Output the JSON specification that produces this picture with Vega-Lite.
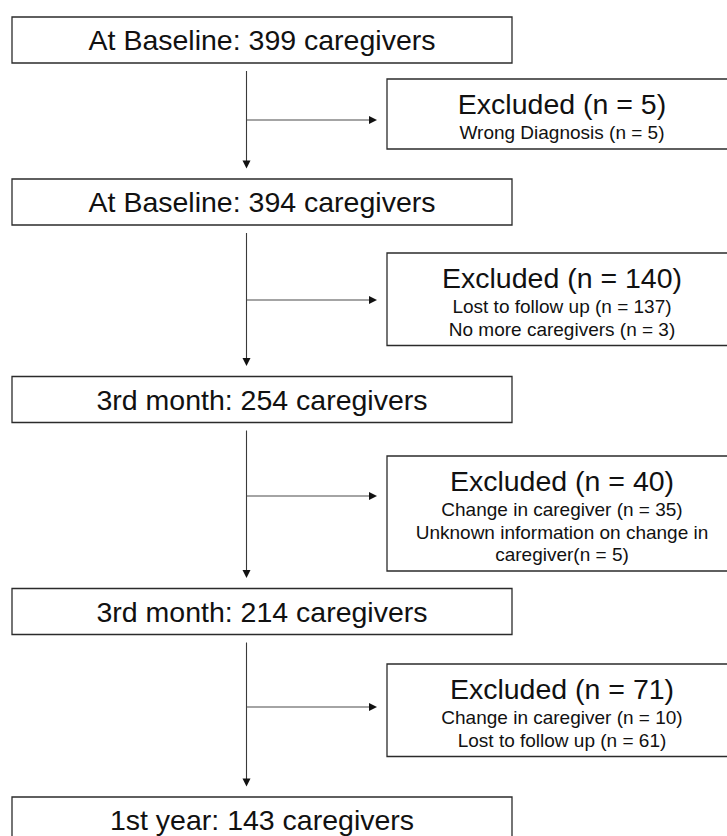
{
  "$schema": "https://vega.github.io/schema/vega-lite/v6.json",
  "width": 727,
  "height": 836,
  "autosize": "none",
  "padding": 0,
  "background": "white",
  "config": {"view": {"stroke": null}, "text": {"font": "Liberation Sans", "color": "#111111"}},
  "datasets": {
    "retained": [
      {"order": 1, "col": 1, "label": "At Baseline: 399 caregivers", "n": 399},
      {"order": 4, "col": 1, "label": "At Baseline: 394 caregivers", "n": 394},
      {"order": 7, "col": 1, "label": "3rd month: 254 caregivers", "n": 254},
      {"order": 10, "col": 1, "label": "3rd month: 214 caregivers", "n": 214},
      {"order": 13, "col": 1, "label": "1st year: 143 caregivers", "n": 143}
    ],
    "excluded": [
      {"order": 2, "arrow": 3, "src": 1, "col": 2, "lines": 1, "n": 5, "title": "Excluded (n = 5)", "details": "Wrong Diagnosis (n = 5)"},
      {"order": 5, "arrow": 6, "src": 1, "col": 2, "lines": 2, "n": 140, "title": "Excluded (n = 140)", "details": "Lost to follow up (n = 137)\nNo more caregivers (n = 3)"},
      {"order": 8, "arrow": 9, "src": 1, "col": 2, "lines": 3, "n": 40, "title": "Excluded (n = 40)", "details": "Change in caregiver (n = 35)\nUnknown information on change in\ncaregiver(n = 5)"},
      {"order": 11, "arrow": 12, "src": 1, "col": 2, "lines": 2, "n": 71, "title": "Excluded (n = 71)", "details": "Change in caregiver (n = 10)\nLost to follow up (n = 61)"}
    ],
    "links": [
      {"col": 1, "from": 1, "to": 4},
      {"col": 1, "from": 4, "to": 7},
      {"col": 1, "from": 7, "to": 10},
      {"col": 1, "from": 10, "to": 13}
    ]
  },
  "layer": [
    {
      "data": {"name": "links"},
      "mark": {"type": "rule", "stroke": "#3a3a3a", "strokeWidth": 1.1, "xOffset": -15.5, "yOffset": 31, "y2Offset": -40},
      "encoding": {
        "x": {"field": "col", "type": "quantitative", "scale": {"domain": [1, 2], "range": [262, 562], "zero": false, "nice": false}, "axis": null},
        "y": {"field": "from", "type": "quantitative", "scale": {"domain": [1,2,3,4,5,6,7,8,9,10,11,12,13], "range": [40,79,120,202,253,300,399.5,456,496,611.5,664,707,820], "zero": false, "nice": false}, "axis": null},
        "y2": {"field": "to"}
      }
    },
    {
      "data": {"name": "links"},
      "mark": {"type": "point", "shape": "M-1,-1L1,-1L0,1Z", "filled": true, "fill": "#111111", "strokeWidth": 0, "opacity": 1, "size": 64, "xOffset": -15.5, "yOffset": -37.5},
      "encoding": {
        "x": {"field": "col", "type": "quantitative"},
        "y": {"field": "to", "type": "quantitative"}
      }
    },
    {
      "data": {"name": "excluded"},
      "mark": {"type": "rule", "stroke": "#4a4a4a", "strokeWidth": 1.1, "xOffset": -15.5, "x2Offset": -190},
      "encoding": {
        "x": {"field": "src", "type": "quantitative"},
        "x2": {"field": "col"},
        "y": {"field": "arrow", "type": "quantitative"}
      }
    },
    {
      "data": {"name": "excluded"},
      "mark": {"type": "point", "shape": "M-1,-1L1,0L-1,1Z", "filled": true, "fill": "#111111", "strokeWidth": 0, "opacity": 1, "size": 64, "xOffset": -189},
      "encoding": {
        "x": {"field": "col", "type": "quantitative"},
        "y": {"field": "arrow", "type": "quantitative"}
      }
    },
    {
      "data": {"name": "retained"},
      "mark": {"type": "rect", "fill": "white", "stroke": "#2b2b2b", "strokeWidth": 1.3, "xOffset": -250, "x2Offset": 250, "yOffset": -23, "y2Offset": 23, "clip": true},
      "encoding": {
        "x": {"field": "col", "type": "quantitative"},
        "x2": {"field": "col"},
        "y": {"field": "order", "type": "quantitative"},
        "y2": {"field": "order"}
      }
    },
    {
      "data": {"name": "retained"},
      "mark": {"type": "text", "fontSize": 28.5, "align": "center", "baseline": "middle", "dy": 1},
      "encoding": {
        "x": {"field": "col", "type": "quantitative"},
        "y": {"field": "order", "type": "quantitative"},
        "text": {"field": "label"}
      }
    },
    {
      "data": {"name": "excluded"},
      "transform": [{"filter": "datum.lines == 1"}],
      "mark": {"type": "rect", "fill": "white", "stroke": "#2b2b2b", "strokeWidth": 1.3, "xOffset": -175, "x2Offset": 175, "y2Offset": 70, "clip": true},
      "encoding": {
        "x": {"field": "col", "type": "quantitative"},
        "x2": {"field": "col"},
        "y": {"field": "order", "type": "quantitative"},
        "y2": {"field": "order"}
      }
    },
    {
      "data": {"name": "excluded"},
      "transform": [{"filter": "datum.lines == 2"}],
      "mark": {"type": "rect", "fill": "white", "stroke": "#2b2b2b", "strokeWidth": 1.3, "xOffset": -175, "x2Offset": 175, "y2Offset": 92.5, "clip": true},
      "encoding": {
        "x": {"field": "col", "type": "quantitative"},
        "x2": {"field": "col"},
        "y": {"field": "order", "type": "quantitative"},
        "y2": {"field": "order"}
      }
    },
    {
      "data": {"name": "excluded"},
      "transform": [{"filter": "datum.lines == 3"}],
      "mark": {"type": "rect", "fill": "white", "stroke": "#2b2b2b", "strokeWidth": 1.3, "xOffset": -175, "x2Offset": 175, "y2Offset": 115, "clip": true},
      "encoding": {
        "x": {"field": "col", "type": "quantitative"},
        "x2": {"field": "col"},
        "y": {"field": "order", "type": "quantitative"},
        "y2": {"field": "order"}
      }
    },
    {
      "data": {"name": "excluded"},
      "mark": {"type": "text", "fontSize": 28.5, "align": "center", "baseline": "middle", "dy": 26},
      "encoding": {
        "x": {"field": "col", "type": "quantitative"},
        "y": {"field": "order", "type": "quantitative"},
        "text": {"field": "title"}
      }
    },
    {
      "data": {"name": "excluded"},
      "mark": {"type": "text", "fontSize": 19, "align": "center", "baseline": "alphabetic", "dy": 60, "lineBreak": "\n", "lineHeight": 22.5},
      "encoding": {
        "x": {"field": "col", "type": "quantitative"},
        "y": {"field": "order", "type": "quantitative"},
        "text": {"field": "details"}
      }
    }
  ]
}
